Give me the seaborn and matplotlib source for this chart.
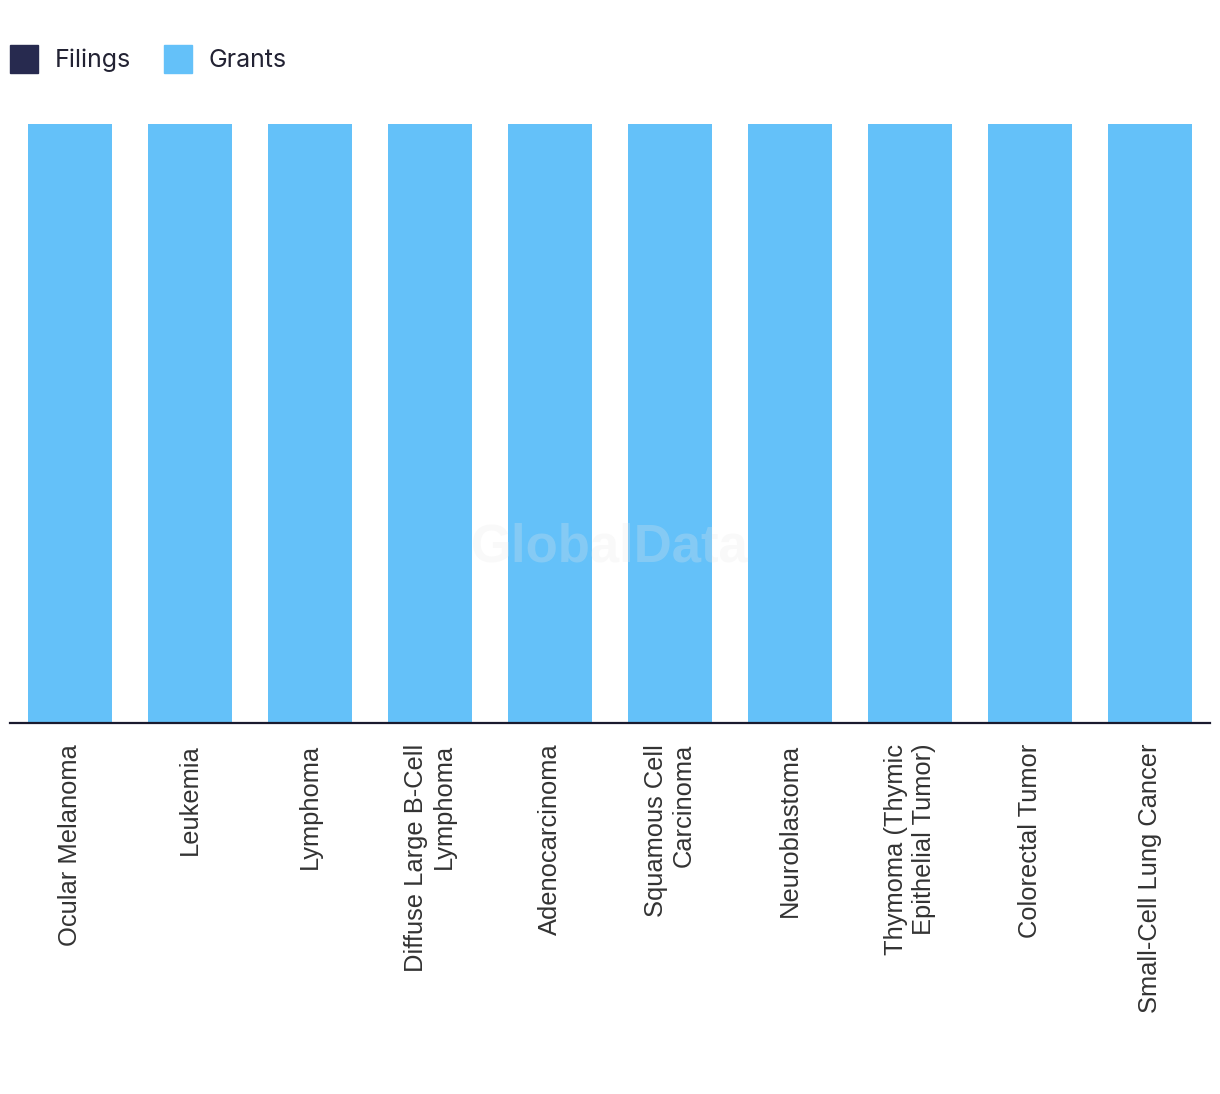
import matplotlib
matplotlib.use("Agg")
import matplotlib.pyplot as plt
import matplotlib.patches as mpatches
import seaborn as sns
import pandas as pd

categories = ["Ocular Melanoma", "Leukemia", "Lymphoma",
              "Diffuse Large B-Cell\nLymphoma", "Adenocarcinoma",
              "Squamous Cell\nCarcinoma", "Neuroblastoma",
              "Thymoma (Thymic\nEpithelial Tumor)", "Colorectal Tumor",
              "Small-Cell Lung Cancer"]
filings = [0, 0, 0, 0, 0, 0, 0, 0, 0, 0]
grants = [1, 1, 1, 1, 1, 1, 1, 1, 1, 1]

FILINGS_COLOR = "#272a4f"
GRANTS_COLOR = "#64c1f9"

sns.set_theme(style="white")
plt.rcParams['font.family'] = ['Liberation Sans', 'DejaVu Sans']

df = pd.DataFrame({"category": categories, "Filings": filings, "Grants": grants})
df["total"] = df["Filings"] + df["Grants"]

W, H = 1220, 1094
fig = plt.figure(figsize=(W / 100, H / 100), dpi=100)
ax = fig.add_axes([10 / W, 1 - 723 / H, 1200 / W, (723 - 124) / H])

sns.barplot(data=df, x="category", y="total", color=GRANTS_COLOR, width=0.7,
            saturation=1, ax=ax, edgecolor="none", linewidth=0)
sns.barplot(data=df, x="category", y="Filings", color=FILINGS_COLOR, width=0.7,
            saturation=1, ax=ax, edgecolor="none", linewidth=0)

ax.set_xlim(-0.5, len(categories) - 0.5)
ax.set_ylim(0, max(df["total"]))
ax.set_xlabel("")
ax.set_ylabel("")
ax.set_yticks([])
for s in ["top", "right", "left"]:
    ax.spines[s].set_visible(False)
ax.spines["bottom"].set_color("#1a1a2e")
ax.spines["bottom"].set_linewidth(1.6)
ax.spines["bottom"].set_zorder(5)
ax.tick_params(axis="x", length=0, pad=15)
ax.set_xticks(range(len(categories)))
ax.set_xticklabels(categories, rotation=90, ha="center", va="top",
                   multialignment="right", fontsize=18.4, color="#333333",
                   linespacing=1.2)

# watermark
fig.text(610 / W, 1 - 548 / H, "GlobalData", ha="center", va="center",
         fontsize=38, fontweight="bold", color="#e8e8e8", alpha=0.25,
         family=["Liberation Sans", "DejaVu Sans"], zorder=10)

handles = [mpatches.Patch(color=FILINGS_COLOR, label="Filings"),
           mpatches.Patch(color=GRANTS_COLOR, label="Grants")]
fig.legend(handles=handles, loc="upper left", bbox_to_anchor=(10 / W, 1 - 45 / H),
           ncol=2, frameon=False, borderpad=0, borderaxespad=0,
           handlelength=1.12, handleheight=1.35, handletextpad=0.68,
           columnspacing=1.3, prop={"family": ["Inter", "DejaVu Sans"], "size": 18},
           labelcolor="#222233")

fig.savefig("out.png", dpi=100)
